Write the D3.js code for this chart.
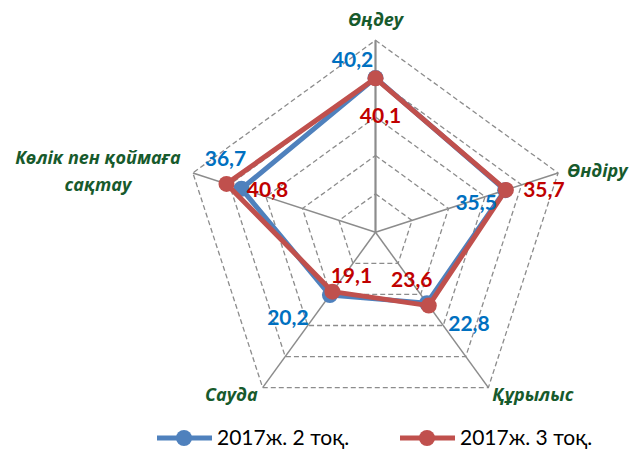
<!DOCTYPE html>
<html>
<head>
  <meta charset="utf-8">
  <style>
    body { margin: 0; background: #fff; }
    svg text { font-family: Lato, "Open Sans", sans-serif; }
    svg text.cat { font-family: "Open Sans", sans-serif; }
  </style>
  <script src="https://d3js.org/d3.v7.min.js"></script>
</head>
<body>
  <svg id="chart" width="632" height="452"></svg>
  <script>
    // categories, clockwise from the top
    const categories = ["Өңдеу", "Өндіру", "Құрылыс", "Сауда", "Көлік пен қоймаға сақтау"];
    const seriesNames = ["2017ж. 2 тоқ.", "2017ж. 3 тоқ."];
    const valuesQ2 = [40.2, 35.5, 22.8, 20.2, 36.7];
    const valuesQ3 = [40.1, 35.7, 23.6, 19.1, 40.8];
    const ringTicks = [10, 20, 30, 40, 50];

    const colors = ["#4F81BD", "#C0504D"];
    const labelColors = ["#0070C0", "#C00000"];

    // where each value label sits relative to its point
    const labelOffsets = [
      [[-23, -18], [-29, 12], [42, 21], [-42, 23], [-16, -30]],
      [[5, 37], [38, 0], [-17, -26], [19, -16], [41, 6]]
    ];
    // category label placement relative to the outer vertex
    const catPlace = [
      { dx: 0, dy: -21, anchor: "middle" },
      { dx: 9, dy: -2, anchor: "start" },
      { dx: 4, dy: 7, anchor: "start" },
      { dx: -5, dy: 7, anchor: "end" },
      { dx: -95, dy: -15, anchor: "middle", lines: ["Көлік пен қоймаға", "сақтау"] }
    ];

    const svg = d3.select("#chart");
    const cx = 375.5, cy = 232.3;
    const r = d3.scaleLinear().domain([0, 50]).range([0, 192]);
    const angle = i => -Math.PI / 2 + i * 2 * Math.PI / categories.length;
    const pt = (v, i) => [cx + r(v) * Math.cos(angle(i)), cy + r(v) * Math.sin(angle(i))];

    // rings
    svg.append("g").selectAll("path")
      .data(ringTicks)
      .join("path")
      .attr("d", t => d3.line()(categories.map((c, i) => pt(t, i))) + "Z")
      .attr("fill", "none")
      .attr("stroke", "#8c8c8c")
      .attr("stroke-width", 1.3)
      .attr("stroke-dasharray", "5,3");

    // spokes
    svg.append("g").selectAll("line")
      .data(categories)
      .join("line")
      .attr("x1", cx).attr("y1", cy)
      .attr("x2", (c, i) => pt(50, i)[0])
      .attr("y2", (c, i) => pt(50, i)[1])
      .attr("stroke", "#8c8c8c")
      .attr("stroke-width", (c, i) => i === 0 ? 2.2 : 1.5);

    // category labels
    const cat = svg.append("g").selectAll("text")
      .data(categories)
      .join("text")
      .attr("class", "cat")
      .attr("x", (c, i) => pt(50, i)[0] + catPlace[i].dx)
      .attr("y", (c, i) => pt(50, i)[1] + catPlace[i].dy)
      .attr("text-anchor", (c, i) => catPlace[i].anchor)
      .attr("dy", "0.35em")
      .attr("fill", "#175A2C")
      .style("font-size", "18px")
      .style("font-weight", "bold")
      .style("font-style", "italic");
    cat.each(function (c, i) {
      const el = d3.select(this);
      const lines = catPlace[i].lines;
      if (!lines) { el.text(c); return; }
      el.attr("dy", null);
      lines.forEach((l, k) => {
        el.append("tspan")
          .attr("x", pt(50, i)[0] + catPlace[i].dx)
          .attr("dy", k === 0 ? "0.35em" : 27)
          .text(l);
      });
    });

    const allSeries = [valuesQ2, valuesQ3];

    allSeries.forEach((vals, s) => {
      const g = svg.append("g");
      g.append("path")
        .attr("d", d3.line()(vals.map((v, i) => pt(v, i))) + "Z")
        .attr("fill", "none")
        .attr("stroke", colors[s])
        .attr("stroke-width", 5)
        .attr("stroke-linejoin", "round");
      g.selectAll("circle")
        .data(vals)
        .join("circle")
        .attr("cx", (v, i) => pt(v, i)[0])
        .attr("cy", (v, i) => pt(v, i)[1])
        .attr("r", 8)
        .attr("fill", colors[s]);
    });

    // value labels
    allSeries.forEach((vals, s) => {
      svg.append("g").selectAll("text")
        .data(vals)
        .join("text")
        .attr("x", (v, i) => pt(v, i)[0] + labelOffsets[s][i][0])
        .attr("y", (v, i) => pt(v, i)[1] + labelOffsets[s][i][1])
        .attr("dy", "0.35em")
        .attr("text-anchor", "middle")
        .attr("fill", labelColors[s])
        .style("font-size", "21px")
        .style("font-weight", "bold")
        .text(v => d3.format(".1f")(v).replace(".", ","));
    });

    // legend
    const legendX = [157, 400];
    const legend = svg.append("g").selectAll("g")
      .data(seriesNames)
      .join("g")
      .attr("transform", (d, i) => "translate(" + legendX[i] + ",438)");
    legend.append("line")
      .attr("x1", 0).attr("x2", 55)
      .attr("stroke", (d, i) => colors[i])
      .attr("stroke-width", 5);
    legend.append("circle")
      .attr("cx", 27).attr("r", 8)
      .attr("fill", (d, i) => colors[i]);
    legend.append("text")
      .attr("x", 60)
      .attr("dy", "0.35em")
      .attr("fill", "#000")
      .style("font-size", "21px")
      .text(d => d);
  </script>
</body>
</html>
